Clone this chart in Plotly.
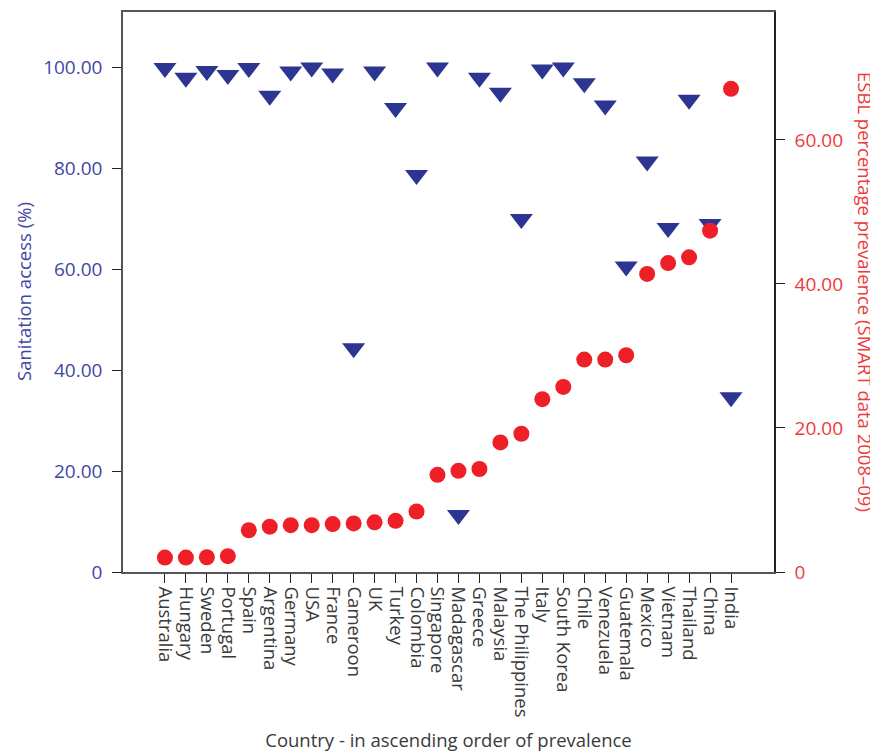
import plotly.graph_objects as go

countries = ["Australia", "Hungary", "Sweden", "Portugal", "Spain", "Argentina",
             "Germany", "USA", "France", "Cameroon", "UK", "Turkey", "Colombia",
             "Singapore", "Madagascar", "Greece", "Malaysia", "The Philippines",
             "Italy", "South Korea", "Chile", "Venezuela", "Guatemala", "Mexico",
             "Vietnam", "Thailand", "China", "India"]

sanitation = [99.8, 97.9, 99.2, 98.4, 99.8, 94.3, 99.1, 99.9, 98.7, 44.3,
              99.1, 91.9, 78.6, 99.9, 11.3, 97.9, 94.9, 69.9, 99.5, 99.9,
              96.8, 92.4, 60.5, 81.3, 68.1, 93.5, 68.9, 34.6]

esbl = [2.0, 2.0, 2.05, 2.2, 5.8, 6.3, 6.5, 6.5, 6.65, 6.75, 6.9, 7.1, 8.4,
        13.5, 14.05, 14.3, 18.0, 19.2, 24.0, 25.7, 29.5, 29.5, 30.1, 41.4,
        42.9, 43.7, 47.4, 67.1]

left_ticks = [0, 20, 40, 60, 80, 100]
left_ticktext = ["0", "20.00", "40.00", "60.00", "80.00", "100.00"]
right_ticks = [0, 20, 40, 60]
right_ticktext = ["0", "20.00", "40.00", "60.00"]

FONT = "Open Sans"
BLUE_TXT = "#4247a3"
BLUE_MK = "#2c3591"
RED_MK = "#ee1f26"
RED_TXT = "#ee3a3c"
GREY = "#3c3c3c"

# page body has an 8px default margin; compensate so the plot lands where the reference has it
W, H = 870, 745
ML, MR, MT, MB = 115, 104, 4, 181
PW = W - ML - MR  # plot width in px (651)

fig = go.Figure()
fig.add_trace(go.Scatter(
    x=countries, y=sanitation, mode="markers", yaxis="y",
    marker=dict(symbol="triangle-down", size=20, color=BLUE_MK, line=dict(width=0)),
    showlegend=False))
fig.add_trace(go.Scatter(
    x=countries, y=esbl, mode="markers", yaxis="y2",
    marker=dict(symbol="circle", size=16, color=RED_MK, line=dict(width=0)),
    showlegend=False))

fig.update_layout(
    width=W, height=H,
    margin=dict(l=ML, r=MR, t=MT, b=MB, autoexpand=False),
    paper_bgcolor="white", plot_bgcolor="white",
    font=dict(family=FONT, size=19, color=GREY),
    xaxis=dict(
        type="category", categoryorder="array", categoryarray=countries,
        tickmode="array", tickvals=countries, ticktext=countries,
        range=[-2, 29.05], tickangle=90,
        ticks="outside", ticklen=9, tickwidth=1.2, tickcolor="#222",
        tickfont=dict(family=FONT, size=18.5, color="#3a3a3a"),
        showline=True, linecolor="#555", linewidth=1.5, mirror=True,
        showgrid=False, zeroline=False, automargin=False,
        title=dict(text="Country - in ascending order of prevalence",
                   font=dict(family=FONT, size=18.5, color="#3a3a3a"), standoff=18),
    ),
    yaxis=dict(
        range=[0, 110.9], tickvals=left_ticks, ticktext=left_ticktext,
        ticks="outside", ticklen=9, tickwidth=1.2, tickcolor="#222",
        tickfont=dict(family=FONT, size=19, color=BLUE_TXT),
        ticklabelstandoff=6,
        showline=True, linecolor="#555", linewidth=1.5,
        showgrid=False, zeroline=False, automargin=False,
    ),
    yaxis2=dict(
        overlaying="y", side="right",
        range=[0, 77.77], tickvals=right_ticks, ticktext=right_ticktext,
        ticks="outside", ticklen=9, tickwidth=1.2, tickcolor="#222",
        tickfont=dict(family=FONT, size=19, color=RED_TXT),
        ticklabelstandoff=6,
        showline=True, linecolor="#222", linewidth=1.5,
        showgrid=False, zeroline=False, automargin=False,
    ),
    annotations=[
        dict(text="Sanitation access (%)", xref="paper", yref="paper",
             x=(23 - 123) / PW, y=0.5, xanchor="center", yanchor="middle",
             textangle=-90, showarrow=False,
             font=dict(family=FONT, size=18.5, color=BLUE_TXT)),
        dict(text="ESBL percentage prevalence (SMART data 2008\u201309)",
             xref="paper", yref="paper",
             x=(866 - 123) / PW, y=0.5, xanchor="center", yanchor="middle",
             textangle=90, showarrow=False,
             font=dict(family=FONT, size=18.5, color=RED_TXT)),
    ],
)

fig.write_html("out.html")
